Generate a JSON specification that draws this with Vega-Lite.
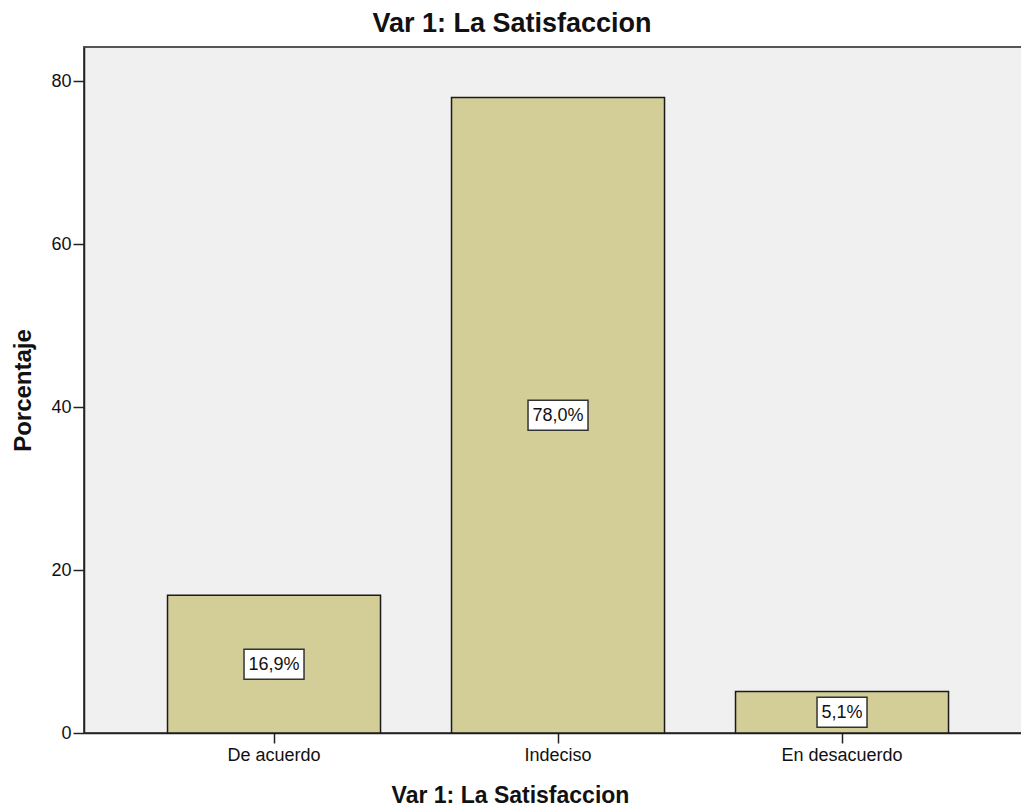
{
  "$schema": "https://vega.github.io/schema/vega-lite/v6.json",
  "autosize": "none",
  "width": 938,
  "height": 686,
  "padding": {"left": 84, "top": 47, "right": 0, "bottom": 74},
  "background": "white",
  "title": {
    "text": "Var 1: La Satisfaccion",
    "font": "Liberation Sans",
    "fontSize": 27,
    "fontWeight": "bold",
    "color": "#111",
    "anchor": "middle",
    "dx": -41,
    "offset": 9
  },
  "data": {
    "values": [
      {"cat": "De acuerdo", "pct": 16.9},
      {"cat": "Indeciso", "pct": 78.0},
      {"cat": "En desacuerdo", "pct": 5.1}
    ]
  },
  "encoding": {
    "x": {
      "field": "cat",
      "type": "nominal",
      "sort": ["De acuerdo", "Indeciso", "En desacuerdo"],
      "scale": {"paddingInner": 0.25, "paddingOuter": 0.2764, "align": 0.532},
      "axis": {
        "title": "Var 1: La Satisfaccion",
        "labelAngle": 0,
        "labelFont": "Liberation Sans",
        "labelFontSize": 18,
        "labelColor": "#111",
        "labelPadding": 3,
        "tickSize": 10,
        "tickColor": "#222",
        "tickWidth": 1.5,
        "domainColor": "#222",
        "domainWidth": 1.5,
        "titleFont": "Liberation Sans",
        "titleFontSize": 23,
        "titleFontWeight": "bold",
        "titleColor": "#111",
        "titleX": 426,
        "titleY": 62,
        "titleBaseline": "middle",
        "titleAnchor": "middle"
      }
    }
  },
  "layer": [
    {
      "mark": {"type": "bar", "fill": "#D3CE97", "stroke": "#1a1a1a", "strokeWidth": 1.5},
      "encoding": {
        "y": {
          "field": "pct",
          "type": "quantitative",
          "scale": {"domain": [0, 84.2], "nice": false},
          "axis": {
            "title": "Porcentaje",
            "values": [0, 20, 40, 60, 80],
            "grid": false,
            "labelFont": "Liberation Sans",
            "labelFontSize": 18,
            "labelColor": "#111",
            "labelPadding": 2,
            "tickSize": 11,
            "tickColor": "#222",
            "tickWidth": 1.5,
            "domainColor": "#222",
            "domainWidth": 1.5,
            "titleFont": "Liberation Sans",
            "titleFontSize": 24,
            "titleFontWeight": "bold",
            "titleColor": "#111",
            "titleX": -61,
            "titleY": 343,
            "titleAngle": -90,
            "titleBaseline": "middle",
            "titleAnchor": "middle"
          }
        }
      }
    },
    {
      "mark": {
        "type": "point",
        "filled": true,
        "fill": "white",
        "opacity": 1,
        "stroke": "#333",
        "strokeWidth": 1.5,
        "shape": {"expr": "datum.pct < 10 ? 'M-1,-0.6H1V0.6H-1Z' : 'M-1,-0.5H1V0.5H-1Z'"},
        "size": {"expr": "datum.pct < 10 ? 2500 : 3600"}
      },
      "encoding": {
        "y": {
          "field": "pct",
          "type": "quantitative",
          "scale": {"domain": [0, 168.4], "nice": false},
          "axis": null
        }
      }
    },
    {
      "mark": {
        "type": "text",
        "font": "Liberation Sans",
        "fontSize": 18,
        "color": "#111",
        "align": "center",
        "baseline": "middle",
        "dy": 1,
        "text": {"expr": "replace(format(datum.pct, '.1f'), '.', ',') + '%'"}
      },
      "encoding": {
        "y": {
          "field": "pct",
          "type": "quantitative",
          "scale": {"domain": [0, 168.4], "nice": false},
          "axis": null
        }
      }
    }
  ],
  "resolve": {"scale": {"y": "independent"}},
  "config": {
    "view": {"fill": "#F0F0F0", "stroke": "#555", "strokeWidth": 2},
    "axis": {"grid": false}
  }
}
